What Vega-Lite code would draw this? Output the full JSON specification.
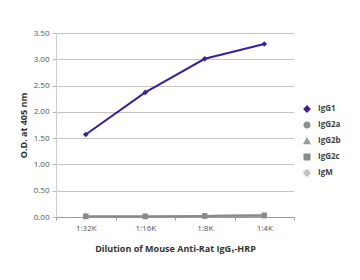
{
  "$schema": "https://vega.github.io/schema/vega-lite/v6.json",
  "width": 238,
  "height": 184,
  "autosize": {"type": "none"},
  "padding": {"left": 56, "top": 33, "right": 66, "bottom": 63},
  "background": "white",
  "config": {
    "font": "Open Sans",
    "view": {"stroke": null},
    "axis": {"labelFont": "Open Sans", "titleFont": "Open Sans"},
    "legend": {
      "title": null,
      "orient": "none",
      "legendX": 247,
      "legendY": 72,
      "labelFontSize": 8,
      "labelFontWeight": "bold",
      "labelColor": "#444",
      "symbolSize": 30,
      "rowPadding": 4,
      "labelOffset": 7
    }
  },
  "data": {
    "values": [
      {"dilution": "1:32K", "antibody": "IgG1", "od": 1.57},
      {"dilution": "1:16K", "antibody": "IgG1", "od": 2.37},
      {"dilution": "1:8K", "antibody": "IgG1", "od": 3.01},
      {"dilution": "1:4K", "antibody": "IgG1", "od": 3.29},
      {"dilution": "1:32K", "antibody": "IgG2a", "od": 0.02},
      {"dilution": "1:16K", "antibody": "IgG2a", "od": 0.02},
      {"dilution": "1:8K", "antibody": "IgG2a", "od": 0.02},
      {"dilution": "1:4K", "antibody": "IgG2a", "od": 0.03},
      {"dilution": "1:32K", "antibody": "IgG2b", "od": 0.02},
      {"dilution": "1:16K", "antibody": "IgG2b", "od": 0.01},
      {"dilution": "1:8K", "antibody": "IgG2b", "od": 0.02},
      {"dilution": "1:4K", "antibody": "IgG2b", "od": 0.03},
      {"dilution": "1:32K", "antibody": "IgM", "od": 0.02},
      {"dilution": "1:16K", "antibody": "IgM", "od": 0.02},
      {"dilution": "1:8K", "antibody": "IgM", "od": 0.02},
      {"dilution": "1:4K", "antibody": "IgM", "od": 0.03},
      {"dilution": "1:32K", "antibody": "IgG2c", "od": 0.01},
      {"dilution": "1:16K", "antibody": "IgG2c", "od": 0.01},
      {"dilution": "1:8K", "antibody": "IgG2c", "od": 0.02},
      {"dilution": "1:4K", "antibody": "IgG2c", "od": 0.03}
    ]
  },
  "encoding": {
    "x": {
      "field": "dilution",
      "type": "ordinal",
      "sort": ["1:32K", "1:16K", "1:8K", "1:4K"],
      "bandPosition": 0.5,
      "scale": {"type": "band", "paddingInner": 0, "paddingOuter": 0},
      "axis": {
        "title": "Dilution of Mouse Anti-Rat IgG₁-HRP",
        "titleFontSize": 9,
        "titleFontWeight": "bold",
        "titleColor": "#333",
        "titlePadding": 12,
        "labelAngle": 0,
        "labelFontSize": 8,
        "labelColor": "#555",
        "labelPadding": 4,
        "tickBand": "extent",
        "tickSize": 3,
        "tickColor": "#999",
        "domainColor": "#999",
        "grid": false
      }
    },
    "y": {
      "field": "od",
      "type": "quantitative",
      "scale": {"domain": [0, 3.5], "nice": false},
      "axis": {
        "title": "O.D. at 405 nm",
        "titleFontSize": 9,
        "titleFontWeight": "bold",
        "titleColor": "#333",
        "titlePadding": 5,
        "values": [0, 0.5, 1, 1.5, 2, 2.5, 3, 3.5],
        "format": ".2f",
        "labelFontSize": 8,
        "labelColor": "#555",
        "labelPadding": 3,
        "tickSize": 4,
        "tickColor": "#bbb",
        "domainColor": "#ccc",
        "gridColor": "#c4c4c4",
        "gridWidth": 1
      }
    },
    "color": {
      "field": "antibody",
      "type": "nominal",
      "scale": {
        "domain": ["IgG1", "IgG2a", "IgG2b", "IgG2c", "IgM"],
        "range": ["#3a1f9e", "#8c8c8c", "#9a9a9a", "#8a8a8a", "#c2c2c2"]
      }
    }
  },
  "layer": [
    {
      "mark": {"type": "line", "strokeWidth": 2}
    },
    {
      "mark": {"type": "point", "filled": true, "opacity": 1},
      "encoding": {
        "shape": {
          "field": "antibody",
          "type": "nominal",
          "scale": {
            "domain": ["IgG1", "IgG2a", "IgG2b", "IgG2c", "IgM"],
            "range": ["diamond", "circle", "triangle-up", "square", "cross"]
          }
        },
        "size": {
          "field": "antibody",
          "type": "nominal",
          "scale": {
            "domain": ["IgG1", "IgG2a", "IgG2b", "IgG2c", "IgM"],
            "range": [32, 30, 30, 48, 28]
          }
        }
      }
    }
  ]
}
